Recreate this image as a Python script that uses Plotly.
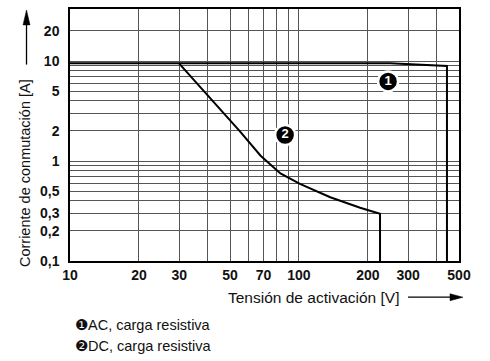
import plotly.graph_objects as go

# curve 1: AC, resistive load
ac_voltage = [10, 250, 443, 443]
ac_current = [9.5, 9.5, 8.9, 0.1]

# curve 2: DC, resistive load
dc_voltage = [30, 40, 55, 68, 83, 101, 137, 185, 226, 226]
dc_current = [9.4, 4.5, 2.0, 1.13, 0.75, 0.59, 0.434, 0.341, 0.297, 0.1]

# grid / tick positions
x_ticks = [10, 20, 30, 40, 50, 60, 70, 80, 90, 100, 200, 300, 400, 500]
x_labels = ["10", "20", "30", "", "50", "", "70", "", "", "100", "200", "300", "", "500"]
y_ticks = [0.1, 0.2, 0.3, 0.4, 0.5, 0.6, 0.7, 0.8, 0.9, 1, 2, 3, 4, 5, 6, 7, 8, 9, 10, 20]
y_labels = ["0,1", "0,2", "0,3", "", "0,5", "", "", "", "", "1", "2", "", "", "5", "", "", "", "", "10", "20"]

# curve number markers
marker_v = [245, 87]
marker_i = [6.25, 1.82]
marker_txt = ["1", "2"]

FONT = "Liberation Sans, Arial, Helvetica, sans-serif"

fig = go.Figure()
fig.add_trace(go.Scatter(x=ac_voltage, y=ac_current, mode="lines",
                         line=dict(color="black", width=2), showlegend=False))
fig.add_trace(go.Scatter(x=dc_voltage, y=dc_current, mode="lines",
                         line=dict(color="black", width=2), showlegend=False))
fig.add_trace(go.Scatter(x=marker_v, y=marker_i, mode="markers+text", text=marker_txt,
                         textposition="middle center",
                         textfont=dict(color="white", size=13, family=FONT, weight="bold"),
                         marker=dict(size=20, color="black", line=dict(color="white", width=2.5)),
                         showlegend=False))

fig.update_xaxes(type="log", range=[1, 2.699], tickmode="array", tickvals=x_ticks, ticktext=x_labels,
                 showgrid=True, gridcolor="#555", gridwidth=1, ticks="",
                 tickfont=dict(size=14, family=FONT, weight="bold", color="#111"),
                 showline=True, linecolor="black", linewidth=1.5, mirror=True, zeroline=False)
fig.update_yaxes(type="log", range=[-1, 1.52], tickmode="array", tickvals=y_ticks, ticktext=y_labels,
                 showgrid=True, gridcolor="#555", gridwidth=1, ticks="", ticklabelstandoff=6,
                 tickfont=dict(size=14, family=FONT, weight="bold", color="#111"),
                 showline=True, linecolor="black", linewidth=1.5, mirror=True, zeroline=False)

annos = [
    dict(text="Corriente de conmutación [A]", x=-0.115, y=0.35, textangle=-90,
         xanchor="center", yanchor="middle", showarrow=False, font=dict(size=14.5)),
    dict(text="Tensión de activación [V]", x=0.625, y=-0.143,
         xanchor="center", yanchor="middle", showarrow=False, font=dict(size=15.5)),
    dict(text="❶AC, carga resistiva", x=0.008, y=-0.252,
         xanchor="left", yanchor="middle", showarrow=False, font=dict(size=14.5)),
    dict(text="❷DC, carga resistiva", x=0.008, y=-0.339,
         xanchor="left", yanchor="middle", showarrow=False, font=dict(size=14.5)),
]
for a in annos:
    a.update(xref="paper", yref="paper")
    fig.add_annotation(**a)

# axis arrows (paper coordinates)
arrow_line = dict(color="black", width=1.3)
fig.add_shape(type="line", xref="paper", yref="paper", x0=-0.1118, y0=0.7795, x1=-0.1118, y1=0.94,
              line=arrow_line)
fig.add_shape(type="path", xref="paper", yref="paper",
              path="M -0.1118,0.996 L -0.1208,0.937 L -0.1028,0.937 Z",
              fillcolor="black", line=dict(color="black", width=0.5))
fig.add_shape(type="line", xref="paper", yref="paper", x0=0.869, y0=-0.1437, x1=0.98, y1=-0.1437,
              line=arrow_line)
fig.add_shape(type="path", xref="paper", yref="paper",
              path="M 1.0103,-0.1437 L 0.9769,-0.1299 L 0.9769,-0.1575 Z",
              fillcolor="black", line=dict(color="black", width=0.5))

fig.update_layout(width=490, height=361, margin=dict(l=70, r=31, t=7, b=100),
                  plot_bgcolor="white", paper_bgcolor="white",
                  font=dict(family=FONT, color="#111"))

fig.write_html("out.html", config={"displayModeBar": False},
               post_script="document.body.style.margin='0';")
